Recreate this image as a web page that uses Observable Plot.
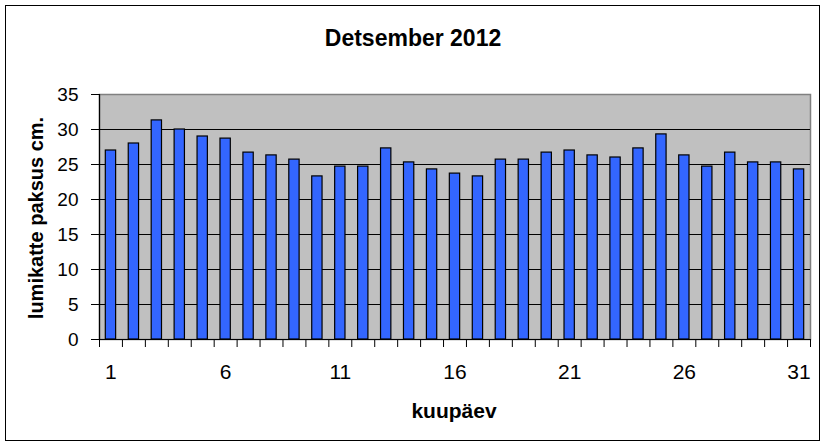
<!DOCTYPE html>
<html>
<head>
<meta charset="utf-8">
<script src="https://cdn.jsdelivr.net/npm/d3@7"></script>
<script src="https://cdn.jsdelivr.net/npm/@observablehq/plot@0.6"></script>
<style>
  html, body { margin: 0; padding: 0; background: #fff; }
  #wrap { position: relative; width: 825px; height: 445px; }
  #border { position: absolute; left: 5px; top: 5px; width: 813px; height: 434px; border: 1px solid #000; pointer-events: none; }
  svg { font-family: Arial, "Liberation Sans", sans-serif; }
</style>
</head>
<body>
<div id="wrap"><div id="border"></div></div>
<script>
const days = [1,2,3,4,5,6,7,8,9,10,11,12,13,14,15,16,17,18,19,20,21,22,23,24,25,26,27,28,29,30,31];
const values = [27.0,28.0,31.3,30.0,29.0,28.7,26.7,26.3,25.7,23.3,24.7,24.7,27.3,25.3,24.3,23.7,23.3,25.7,25.7,26.7,27.0,26.3,26.0,27.3,29.3,26.3,24.7,26.7,25.3,25.3,24.3];
const yTicks = [0,5,10,15,20,25,30,35];
const gridValues = [5,10,15,20,25,30];
const xLabelTicks = [1,6,11,16,21,26,31];
const xBoundaries = [0.5].concat(days.map(d => d + 0.5));
const title = "Detsember 2012";
const xTitle = "kuupäev";
const yTitle = "lumikatte paksus cm.";

const data = days.map((d, i) => ({day: d, value: values[i]}));
const half = 0.225;

const chart = Plot.plot({
  width: 825,
  height: 445,
  marginLeft: 99,
  marginRight: 15,
  marginTop: 94,
  marginBottom: 106,
  style: {fontFamily: 'Arial, "Liberation Sans", sans-serif', color: "#000", background: "transparent"},
  x: {domain: [0.5, 31.5]},
  y: {domain: [0, 35]},
  marks: [
    Plot.frame({fill: "#c0c0c0", stroke: "#808080", strokeWidth: 1.5}),
    Plot.ruleY(gridValues, {stroke: "#000", strokeWidth: 1.2}),
    Plot.rectY(data, {x1: d => d.day - half, x2: d => d.day + half, y: "value", fill: "#3366ff", stroke: "#000", strokeWidth: 1.2}),
    Plot.ruleY([0], {stroke: "#000", strokeWidth: 1.2}),
    Plot.ruleX([0.5], {stroke: "#000", strokeWidth: 1.2}),
    Plot.axisY({ticks: yTicks, tickSize: 8, tickPadding: 13, fontSize: 19, stroke: "#000", label: null}),
    Plot.axisX({ticks: xBoundaries, tickSize: 8, tickFormat: () => "", stroke: "#000", label: null}),
    Plot.axisX({ticks: xLabelTicks, tickSize: 0, tickPadding: 25, fontSize: 21, label: null}),
    Plot.text([title], {frameAnchor: "top", dx: -42, dy: -49, lineAnchor: "bottom", fontSize: 23, fontWeight: "bold", fill: "#000"}),
    Plot.text([xTitle], {frameAnchor: "bottom", dx: -1, dy: 78, lineAnchor: "bottom", fontSize: 21, fontWeight: "bold", fill: "#000"}),
    Plot.text([yTitle], {frameAnchor: "left", dx: -63, dy: 1, rotate: -90, textAnchor: "middle", lineAnchor: "middle", fontSize: 20, fontWeight: "bold", fill: "#000"})
  ]
});
document.getElementById("wrap").prepend(chart);
</script>
</body>
</html>
